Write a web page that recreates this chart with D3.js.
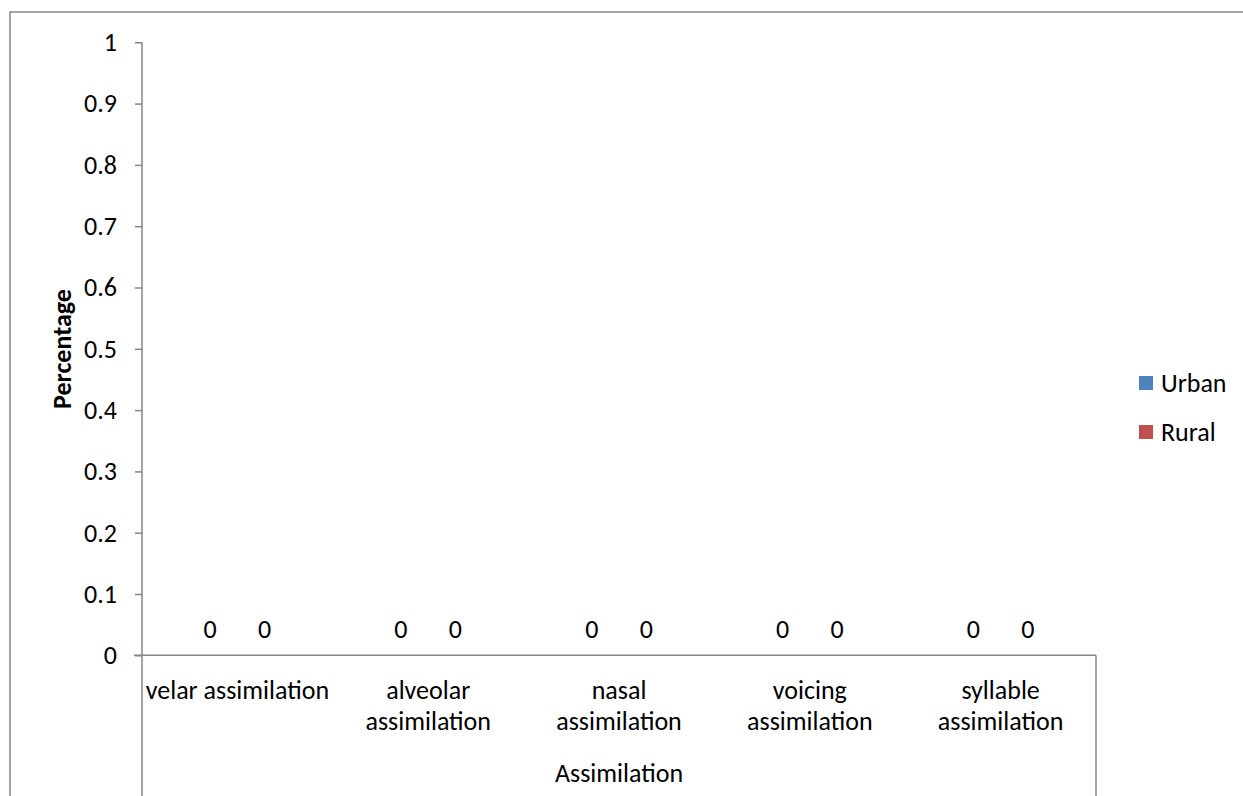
<!DOCTYPE html>
<html><head><meta charset="utf-8">
<script src="https://cdn.jsdelivr.net/npm/d3@7"></script>
<style>body{margin:0;background:#fff}text{font-family:Carlito,Lato,"Open Sans",sans-serif;fill:#000}</style>
</head><body><svg id="c" width="1243" height="796"></svg>
<script>
const categories = [["velar assimilation"],["alveolar","assimilation"],["nasal","assimilation"],["voicing","assimilation"],["syllable","assimilation"]];
const seriesNames = ["Urban","Rural"];
const urban = [0,0,0,0,0];
const rural = [0,0,0,0,0];
const yTicks = [0,0.1,0.2,0.3,0.4,0.5,0.6,0.7,0.8,0.9,1];
const colors = ["#4f81bd","#c0504d"];
const xTitle = "Assimilation", yTitle = "Percentage";

const svg = d3.select("#c");
const axisCol = "#868686";
const FS = "26px";
// frame
svg.append("rect").attr("x",10).attr("y",12).attr("width",1250).attr("height",900)
  .attr("fill","none").attr("stroke",axisCol).attr("stroke-width",1.5);

const L=142, R=1096, T=42.3, B=655.3;
const y = d3.scaleLinear().domain([0,1]).range([B,T]);
const x0 = d3.scaleBand().domain(d3.range(categories.length)).range([L,R]);
const x1 = d3.scaleBand().domain(seriesNames).range([0,x0.bandwidth()]).paddingInner(0).paddingOuter(0.75);

// y axis
const ya = svg.append("g").attr("transform",`translate(${L},0)`)
  .call(d3.axisLeft(y).tickValues(yTicks).tickFormat(d=>String(d)).tickSize(7).tickPadding(18));
ya.select(".domain").remove();
ya.selectAll("line").attr("stroke",axisCol).attr("stroke-width",1.5);
ya.selectAll("text").style("font-size",FS).attr("fill","#000");
svg.append("line").attr("x1",L).attr("x2",L).attr("y1",T).attr("y2",796).attr("stroke",axisCol).attr("stroke-width",1.5);
svg.append("line").attr("x1",R).attr("x2",R).attr("y1",B).attr("y2",796).attr("stroke",axisCol).attr("stroke-width",1.5);
svg.append("line").attr("x1",L-8).attr("x2",R).attr("y1",B).attr("y2",B).attr("stroke",axisCol).attr("stroke-width",1.5);

// bars + labels
const data = categories.map((c,i)=>({i, vals:[urban[i],rural[i]]}));
const g = svg.selectAll(".grp").data(data).join("g").attr("transform",d=>`translate(${x0(d.i)},0)`);
g.selectAll("rect").data(d=>d.vals.map((v,k)=>({k,v}))).join("rect")
  .attr("x",d=>x1(seriesNames[d.k])).attr("width",x1.bandwidth())
  .attr("y",d=>y(d.v)).attr("height",d=>B-y(d.v)).attr("fill",d=>colors[d.k]);
g.selectAll("text.val").data(d=>d.vals.map((v,k)=>({k,v}))).join("text").attr("class","val")
  .attr("x",d=>x1(seriesNames[d.k])+x1.bandwidth()/2).attr("y",d=>y(d.v)-17)
  .attr("text-anchor","middle").style("font-size",FS).text(d=>d.v);

// category labels
categories.forEach((lines,i)=>{
  const t = svg.append("text").attr("text-anchor","middle").style("font-size",FS);
  lines.forEach((ln,j)=>t.append("tspan").attr("x",x0(i)+x0.bandwidth()/2).attr("y",699+j*31).text(ln));
});
svg.append("text").attr("x",(L+R)/2).attr("y",782).attr("text-anchor","middle").style("font-size",FS).text(xTitle);
svg.append("text").attr("transform","translate(71,349) rotate(-90)").attr("text-anchor","middle")
  .style("font-size",FS).style("font-weight","bold").text(yTitle);

// legend
seriesNames.forEach((s,k)=>{
  const yy = 383 + k*49;
  svg.append("rect").attr("x",1139).attr("y",yy-7).attr("width",14).attr("height",14).attr("fill",colors[k]);
  svg.append("text").attr("x",1161).attr("y",yy+9).style("font-size",FS).text(s);
});
</script></body></html>
